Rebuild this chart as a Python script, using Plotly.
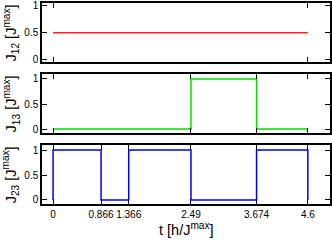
import plotly.graph_objects as go

# switching times
t_all = [0, 0.866, 1.366, 2.49, 3.674, 4.6]

# J12: constant
t12 = [0, 4.6]
j12 = [0.5, 0.5]

# J13: off, on, off
t13 = [0, 2.49, 2.49, 3.674, 3.674, 4.6, 4.6]
j13 = [0, 0, 1, 1, 0, 0, 0]

# J23: on/off pulses
t23 = [0, 0, 0.866, 0.866, 1.366, 1.366, 2.49, 2.49, 3.674, 3.674, 4.6, 4.6]
j23 = [0, 1, 1, 0, 0, 1, 1, 0, 0, 1, 1, 0]

xticks12 = [0, 4.6]
xticks13 = [0, 2.49, 3.674, 4.6]
xtick_text = ["0", "0.866", "1.366", "2.49", "3.674", "4.6"]

fig = go.Figure()
fig.add_trace(go.Scatter(x=t12, y=j12, mode="lines", line=dict(color="#ff2020", width=1.5),
                         xaxis="x", yaxis="y"))
fig.add_trace(go.Scatter(x=t13, y=j13, mode="lines", line=dict(color="#00e000", width=1.5),
                         xaxis="x2", yaxis="y2"))
fig.add_trace(go.Scatter(x=t23, y=j23, mode="lines", line=dict(color="#0000ff", width=1.5),
                         xaxis="x3", yaxis="y3"))

font = dict(family="Liberation Sans, Arial, sans-serif", size=10, color="black")
common_x = dict(range=[-0.2, 5.0], showline=True, mirror="allticks", linecolor="black",
                linewidth=1.5, ticks="inside", ticklen=5, tickcolor="black", showgrid=False,
                zeroline=False, tickfont=font, automargin=False)
common_y = dict(showline=True, mirror="allticks", linecolor="black", linewidth=1.5,
                ticks="inside", ticklen=5, tickcolor="black", showgrid=False, zeroline=False,
                tickvals=[0, 0.5, 1], ticktext=["0", "0.5", "1"], tickfont=font,
                automargin=False)
title_font = dict(family="Liberation Sans, Arial, sans-serif", size=14.5, color="black")

fig.update_layout(
    width=332, height=241,
    margin=dict(l=42, r=2, t=3, b=37),
    paper_bgcolor="white", plot_bgcolor="white",
    showlegend=False,
    xaxis=dict(common_x, domain=[0, 1], anchor="y", tickvals=xticks12, showticklabels=False),
    xaxis2=dict(common_x, domain=[0, 1], anchor="y2", tickvals=xticks13, showticklabels=False),
    xaxis3=dict(common_x, domain=[0, 1], anchor="y3", tickvals=t_all, ticktext=xtick_text),
    yaxis=dict(common_y, domain=[0.7065, 1], anchor="x", range=[-0.04, 1.05]),
    yaxis2=dict(common_y, domain=[0.353, 0.647], anchor="x2", range=[-0.08, 1.1]),
    yaxis3=dict(common_y, domain=[0, 0.2935], anchor="x3", range=[-0.08, 1.1]),
)

# axis titles as annotations
ylabels = ["J<sub>12</sub> [J<sup>max</sup>]", "J<sub>13</sub> [J<sup>max</sup>]",
           "J<sub>23</sub> [J<sup>max</sup>]"]
ycenters = [0.853, 0.5, 0.147]
for lab, yc in zip(ylabels, ycenters):
    fig.add_annotation(text=lab, xref="paper", yref="paper", x=-0.108, y=yc,
                       xanchor="center", yanchor="middle", textangle=-90,
                       showarrow=False, font=title_font)
fig.add_annotation(text="t [h/J<sup>max</sup>]", xref="paper", yref="paper", x=0.5, y=-0.125,
                   xanchor="center", yanchor="middle", showarrow=False, font=title_font)

# drop the default page margin so the figure fills the window
fig.write_html("out.html", config={"displayModeBar": False},
               post_script="document.body.style.margin='0';")
